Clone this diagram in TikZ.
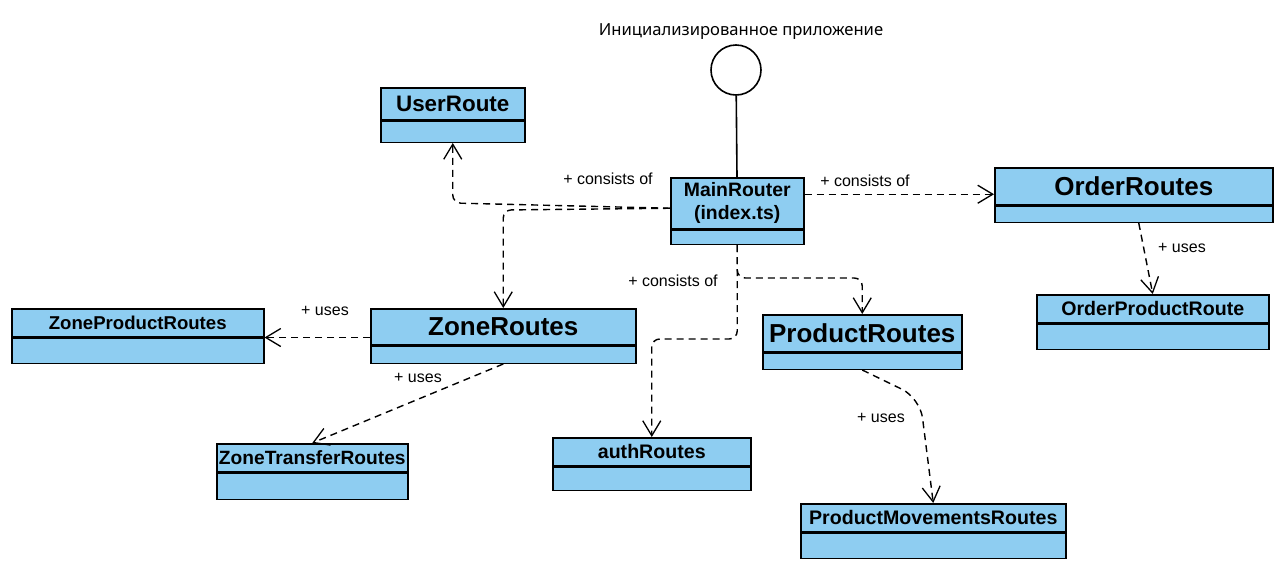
\documentclass[tikz,border=0pt]{standalone}
\usepackage{fontspec}
\setmainfont{Liberation Sans}
\newfontfamily\titlefont{Noto Sans}
\usetikzlibrary{shapes,calc,arrows.meta,positioning}
\usepackage{xcolor}
\definecolor{classblue}{HTML}{8ECDF1}

\newcommand{\clsbig}{\bfseries\fontsize{26}{30}\selectfont}
\newcommand{\clsmid}{\bfseries\fontsize{22.4}{26}\selectfont}
\newcommand{\clssmall}{\bfseries\fontsize{19.6}{23}\selectfont}

\begin{document}
\begin{tikzpicture}[x=1pt,y=-1pt,
  hdr/.style={draw, fill=classblue, line width=1.5pt, inner sep=0pt, anchor=north west},
  cbody/.style={draw, fill=classblue, line width=1.5pt, inner sep=0pt, below=0pt of #1},
  dep/.style={line width=1.4pt, dash pattern=on 7pt off 5pt,
    -{Straight Barb[length=15pt,width=18pt,line width=1.3pt]}},
  lbl/.style={font=\fontsize{16}{19}\selectfont}]

  \useasboundingbox (0,0) rectangle (1286,568);

  % \draw[step=50,thin,gray] (0,0) grid (1286,568);

  % the app and the main router
  \node (app) [circle, draw, line width=1.6pt, minimum size=50pt, inner sep=0pt] at (736,70) {};
  \node (apptitle) [font=\titlefont\fontsize{16.6}{19}\selectfont] at (741,32) {Инициализированное приложение};

  \node (mainh) [hdr, minimum width=133pt, minimum height=51pt, align=center,
    font=\bfseries\fontsize{19.4}{23}\selectfont] at (670,177) {MainRouter\\(index.ts)};
  \node (main) [cbody=mainh, minimum width=133pt, minimum height=14pt] {};
  \draw[line width=1.6pt] (app) -- (mainh);

  % classes
  \node (userh) [hdr, minimum width=144pt, minimum height=32pt, font=\clsmid] at (380,87) {UserRoute};
  \node (user) [cbody=userh, minimum width=144pt, minimum height=21pt] {};

  \node (orderh) [hdr, minimum width=278pt, minimum height=37pt, font=\clsbig] at (994,167) {OrderRoutes};
  \node (order) [cbody=orderh, minimum width=278pt, minimum height=16pt] {};

  \node (oprodh) [hdr, minimum width=232pt, minimum height=28pt, font=\clssmall] at (1036,294) {OrderProductRoute};
  \node (oprod) [cbody=oprodh, minimum width=232pt, minimum height=25pt] {};

  \node (zoneh) [hdr, minimum width=265pt, minimum height=36pt, font=\clsbig] at (370,308) {ZoneRoutes};
  \node (zone) [cbody=zoneh, minimum width=265pt, minimum height=17pt] {};

  \node (zprodh) [hdr, minimum width=252pt, minimum height=28pt,
    font=\bfseries\fontsize{18.6}{22}\selectfont] at (11,308) {ZoneProductRoutes};
  \node (zprod) [cbody=zprodh, minimum width=252pt, minimum height=25pt] {};

  \node (ztrh) [hdr, minimum width=191pt, minimum height=28pt,
    font=\bfseries\fontsize{19.2}{23}\selectfont] at (216,443) {ZoneTransferRoutes};
  \node (ztr) [cbody=ztrh, minimum width=191pt, minimum height=26pt] {};

  \node (prodh) [hdr, minimum width=199pt, minimum height=37pt, font=\clsbig] at (762,314) {ProductRoutes};
  \node (prod) [cbody=prodh, minimum width=199pt, minimum height=16pt] {};

  \node (authh) [hdr, minimum width=198pt, minimum height=28pt, font=\clssmall] at (552,437) {authRoutes};
  \node (auth) [cbody=authh, minimum width=198pt, minimum height=23pt] {};

  \node (pmovh) [hdr, minimum width=265pt, minimum height=28pt, font=\clssmall] at (800,503) {ProductMovementsRoutes};
  \node (pmov) [cbody=pmovh, minimum width=265pt, minimum height=25pt] {};

  % connectors
  \coordinate (mainl) at ($(mainh.west)+(0,5)$);
  \coordinate (orderw) at ($(orderh.west)+(0,8)$);

  \draw[dep, rounded corners=8pt] (mainl) -- (user.south |- 0,203) -- (user.south);
  \draw[dep, rounded corners=8pt] (mainl) -- (zoneh.north |- 0,210) -- (zoneh.north);
  \node (lcons1) [lbl] at (608,179) {+ consists of};

  \draw[dep] (mainh.east |- orderw) -- (orderw);
  \node (lcons2) [lbl] at (865,181) {+ consists of};

  \draw[dep, rounded corners=8pt] (main.south) -- (main.south |- 0,278) -- (prodh.north |- 0,278) -- (prodh.north);
  \draw[dep, rounded corners=8pt] (main.south) -- (main.south |- 0,339) -- (authh.north |- 0,339) -- (authh.north);
  \node (lcons3) [lbl] at (673,281) {+ consists of};

  \draw[dep] (zoneh.west |- zprodh.south east) -- (zprodh.south east);
  \node (luses1) [lbl] at (325,311) {+ uses};

  \draw[dep] (zone.south) -- (ztrh.north);
  \node (luses2) [lbl] at (418,378) {+ uses};

  \draw[dep] ([xshift=5pt]order.south) -- (oprodh.north);
  \node (luses3) [lbl] at (1182,248) {+ uses};

  \draw[dep, rounded corners=20pt] (prod.south) -- (920,398) -- (pmovh.north);
  \node (luses4) [lbl] at (881,418) {+ uses};

\end{tikzpicture}
\end{document}
